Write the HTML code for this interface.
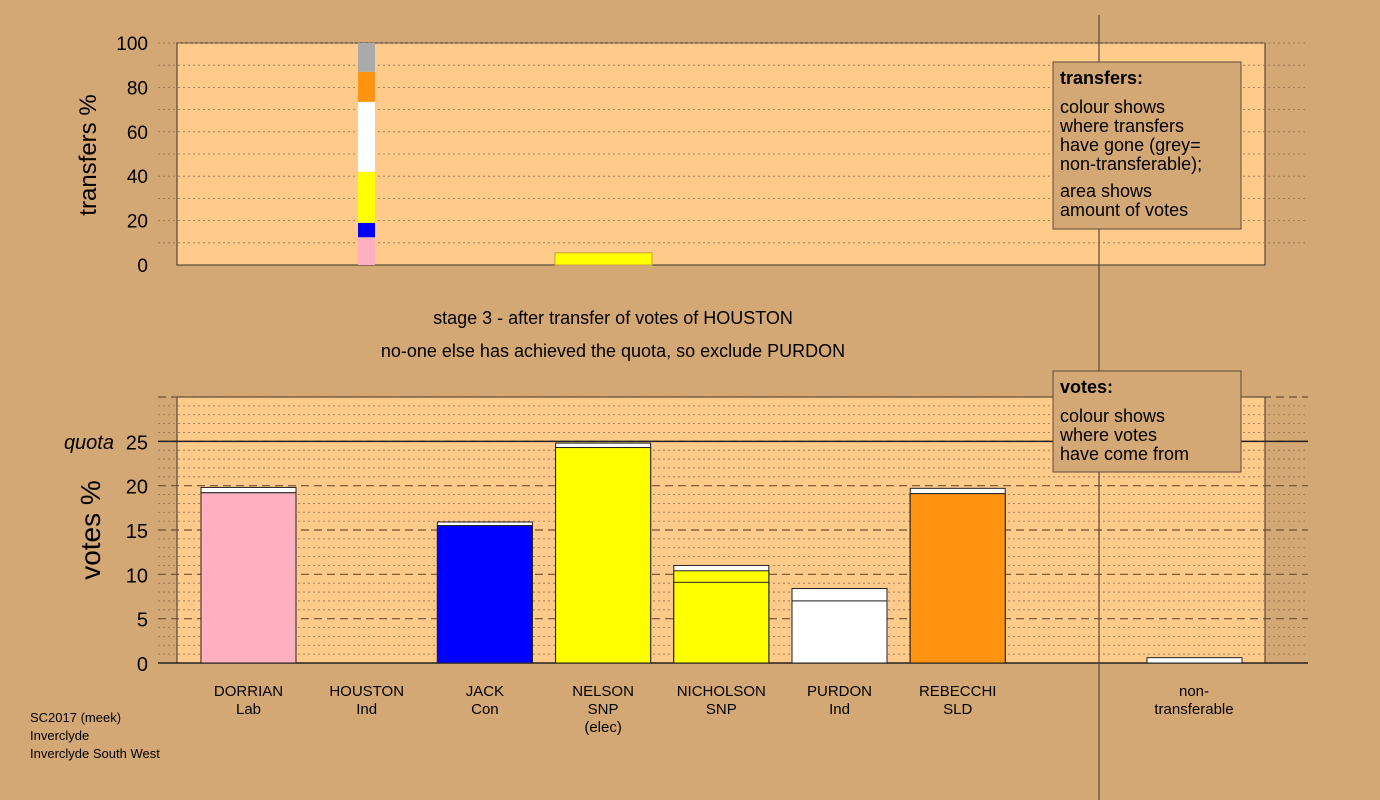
<!DOCTYPE html>
<html><head><meta charset="utf-8"><style>
body{margin:0;background:#d4a874;}
svg{display:block;font-family:"Liberation Sans",Arial,sans-serif;}
</style></head><body>
<svg id="c" width="1380" height="800">
<rect width="1380" height="800" fill="#d4a874"/>
<rect x="177" y="43" width="1088" height="222" fill="#ffca8a" stroke="#333"/>
<rect x="177" y="397" width="1088" height="266" fill="#ffca8a" stroke="#333"/>
<g id="tg"></g><g id="vg"></g><g id="bars"></g><g id="tbars"></g>
<text x="0" y="0" transform="translate(96,155) rotate(-90)" text-anchor="middle" font-size="24">transfers %</text>
<text x="0" y="0" transform="translate(100,530) rotate(-90)" text-anchor="middle" font-size="28">votes %</text>
<text x="613" y="324" text-anchor="middle" font-size="18">stage 3 - after transfer of votes of HOUSTON</text>
<text x="613" y="357" text-anchor="middle" font-size="18">no-one else has achieved the quota, so exclude PURDON</text>
<text x="114" y="449" text-anchor="end" font-size="20" font-style="italic">quota</text>
<line x1="1099" y1="15" x2="1099" y2="800" stroke="#5a4a3a" stroke-width="1.2"/>
<g>
<rect x="1053" y="62" width="188" height="167" fill="#d4a874" stroke="#5a4a3a"/>
<text x="1060" y="84" font-size="18" font-weight="bold">transfers:</text>
<text x="1060" y="113" font-size="18">colour shows</text>
<text x="1060" y="132" font-size="18">where transfers</text>
<text x="1060" y="151" font-size="18">have gone (grey=</text>
<text x="1060" y="170" font-size="18">non-transferable);</text>
<text x="1060" y="197" font-size="18">area shows</text>
<text x="1060" y="216" font-size="18">amount of votes</text>
</g>
<g>
<rect x="1053" y="371" width="188" height="101" fill="#d4a874" stroke="#5a4a3a"/>
<text x="1060" y="393" font-size="18" font-weight="bold">votes:</text>
<text x="1060" y="422" font-size="18">colour shows</text>
<text x="1060" y="441" font-size="18">where votes</text>
<text x="1060" y="460" font-size="18">have come from</text>
</g>
<g font-size="13">
<text x="30" y="722">SC2017 (meek)</text>
<text x="30" y="740">Inverclyde</text>
<text x="30" y="758">Inverclyde South West</text>
</g>
</svg>
<script>
const categories=["DORRIAN","HOUSTON","JACK","NELSON","NICHOLSON","PURDON","REBECCHI"];
const parties=["Lab","Ind","Con","SNP\n(elec)","SNP","Ind","SLD"];
const baseVotes=[19.2,0,15.5,24.3,9.1,7.0,19.1];
const transferYellow=[0,0,0,0,1.3,0,0];
const transferTotal=[19.8,0,15.9,24.8,11.0,8.4,19.7];
const baseColors=["#ffb0c0","#fff","#0000ff","#ffff00","#ffff00","#ffffff","#ff9410"];
const nonTransferable=0.6;
const quota=25;
const voteTicks=[0,5,10,15,20,25];
const transferTicks=[0,20,40,60,80,100];
const transferShares=[12.5,6.5,23,31.5,13.5,13];
const transferColors=["#ffb0c0","#0000ff","#ffff00","#ffffff","#ff9410","#aaaaaa"];
const nelsonTransfer=5.5;

const NS="http://www.w3.org/2000/svg";
function mk(parent,tag,attrs){const e=document.createElementNS(NS,tag);for(const k in attrs)e.setAttribute(k,attrs[k]);document.getElementById(parent).appendChild(e);return e;}
const vy=v=>663-v*(266/30);
const ty=v=>265-v*2.22;
const bx=i=>201+i*118.2;
const BW=95;

for(let v=1;v<=30;v++){const dashed=v%5===0;
 const l=mk('vg','line',{x1:158,x2:1308,y1:vy(v),y2:vy(v),stroke:dashed?'#6a5030':'#8a7050','stroke-width':dashed?1.2:0.8,'stroke-dasharray':dashed?'8,5':'2,3'});
 
 }
for(let v=10;v<=100;v+=10){const l=mk('tg','line',{x1:158,x2:1308,y1:ty(v),y2:ty(v),stroke:'#8a7050','stroke-width':0.8,'stroke-dasharray':'2,3'});
 
 }
voteTicks.forEach(v=>{const t=mk('vg','text',{x:148,y:vy(v)+8,'text-anchor':'end','font-size':20});t.textContent=v;
 
 });
transferTicks.forEach(v=>{const t=mk('tg','text',{x:148,y:ty(v)+7,'text-anchor':'end','font-size':19});t.textContent=v;
 
 });
const q=mk('vg','line',{x1:158,x2:1308,y1:vy(quota),y2:vy(quota),stroke:'#222','stroke-width':1.5});


const ax=mk('vg','line',{x1:158,x2:1308,y1:663,y2:663,stroke:'#222','stroke-width':1.5});



categories.forEach((c,i)=>{
 const x=bx(i);
 if(transferTotal[i]>0){
  const w=mk('bars','rect',{x:x,y:vy(transferTotal[i]),width:BW,height:vy(0)-vy(transferTotal[i]),fill:'#fff',stroke:'#222','stroke-width':1});
  
  
  const b=mk('bars','rect',{x:x,y:vy(baseVotes[i]+transferYellow[i]),width:BW,height:vy(0)-vy(baseVotes[i]+transferYellow[i]),fill:transferYellow[i]>0?'#ffff00':baseColors[i],stroke:'#222','stroke-width':1});
  
  
  const r=mk('bars','rect',{x:x,y:vy(baseVotes[i]),width:BW,height:vy(0)-vy(baseVotes[i]),fill:baseColors[i],stroke:'#222','stroke-width':1});
  
  
 }
 const t=mk('bars','text',{x:x+BW/2,y:696,'text-anchor':'middle','font-size':15});
 
 
 [c].concat(parties[i].split('\n')).forEach((s,k)=>{const ts=document.createElementNS(NS,'tspan');ts.setAttribute('x',x+BW/2);ts.setAttribute('dy',k?18:0);ts.textContent=s;t.appendChild(ts);});
});
const nt=mk('bars','rect',{x:1147,y:vy(nonTransferable),width:BW,height:vy(0)-vy(nonTransferable),fill:'#fff',stroke:'#222','stroke-width':1});


const ntl=mk('bars','text',{x:1194,y:696,'text-anchor':'middle','font-size':15});


ntl.innerHTML='<tspan x="1194">non-</tspan><tspan x="1194" dy="18">transferable</tspan>';

let acc=0;
transferShares.forEach((s,k)=>{
 const r=mk('tbars','rect',{x:358,y:ty(acc+s),width:17,height:ty(acc)-ty(acc+s),fill:transferColors[k]});
 
 
 acc+=s;});
const nr=mk('tbars','rect',{x:555,y:ty(nelsonTransfer),width:97,height:ty(0)-ty(nelsonTransfer),fill:'#ffff00',stroke:'#c8a040','stroke-width':1});


</script>
</body></html>
